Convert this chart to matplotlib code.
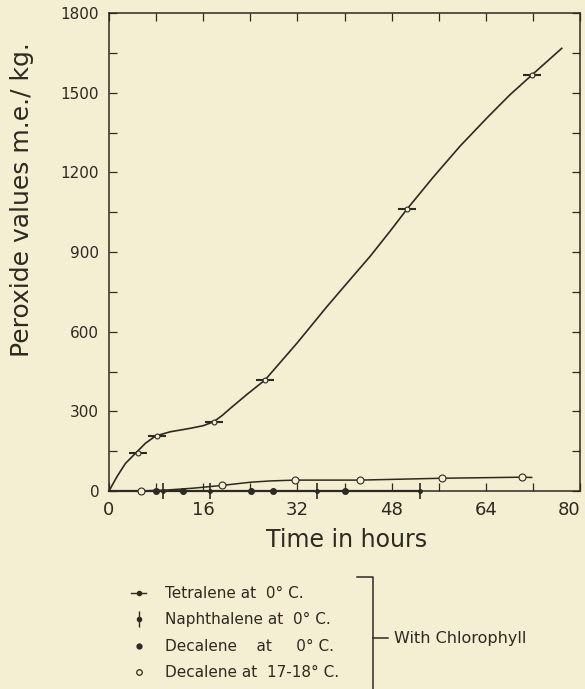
import matplotlib
matplotlib.use('Agg')
import matplotlib.pyplot as plt
from matplotlib.lines import Line2D

# Tetralene at 0 deg C: measured points and the drawn curve through them
tet_t = [5.0, 8.1, 17.8, 26.5, 50.6, 71.8]
tet_v = [142, 207, 261, 418, 1061, 1566]
tet_curve_t = [0, 1.35, 2.8, 4.5, 6.2, 7.9, 10.4, 13.8, 16.0, 17.8, 19.2, 20.6,
               23.5, 26.5, 31.9, 37.0, 40.4, 44.4, 47.8, 50.6, 55.0, 59.6,
               64.2, 68.1, 71.8, 76.9]
tet_curve_v = [0, 54, 104, 142, 180, 207, 223, 236, 246, 261, 284, 311,
               365, 418, 556, 694, 782, 885, 980, 1061, 1180, 1298,
               1405, 1492, 1566, 1667]

# Naphthalene at 0 deg C (stays on zero)
nap_t = [9.2, 17.2, 35.3, 52.8]
nap_v = [0, 0, 0, 0]
nap_line_t = [0, 52.8]
nap_line_v = [0, 0]

# Decalene at 0 deg C (stays on zero)
dec0_t = [8.0, 12.6, 24.1, 27.9, 40.1]
dec0_v = [0, 0, 0, 0, 0]

# Decalene at 17-18 deg C
dec17_t = [5.4, 19.2, 31.6, 42.6, 56.5, 70.1]
dec17_v = [0, 21, 41, 41, 48, 52]
dec17_curve_t = [5.4, 10.0, 14.5, 19.2, 24.0, 27.5, 31.6, 42.6, 56.5, 70.1, 71.8]
dec17_curve_v = [0, 4, 11, 21, 33, 38, 41, 41, 48, 52, 51]

x_major = [0, 16, 32, 48, 64, 80]
x_minor = [8, 24, 40, 56, 72]
y_major = [0, 300, 600, 900, 1200, 1500, 1800]
y_minor = [150, 450, 750, 1050, 1350, 1650]

legend_labels = ['Tetralene at  0° C.', 'Naphthalene at  0° C.',
                 'Decalene    at     0° C.', 'Decalene at  17-18° C.']

bg = '#f4eed2'
ink = '#2d2a22'
W, H = 585, 689

plt.rcParams['font.family'] = ['DejaVu Sans']

fig = plt.figure(figsize=(W / 100, H / 100), dpi=100, facecolor=bg)
ax = fig.add_axes([109 / W, 1 - 491 / H, (580 - 109) / W, (491 - 13) / H])
ax.set_facecolor(bg)

ax.plot(tet_curve_t, tet_curve_v, color=ink, lw=1.2)
ax.plot(tet_t, tet_v, ls='none', marker='_', ms=13, mew=1.5, color=ink)
ax.plot(tet_t, tet_v, ls='none', marker='o', ms=3.5, mfc=bg, mec=ink, mew=0.8)

ax.plot(dec17_curve_t, dec17_curve_v, color=ink, lw=1.1)
ax.plot(dec17_t, dec17_v, ls='none', marker='o', ms=5, mfc=bg, mec=ink, mew=0.8,
        clip_on=False, zorder=4)

ax.plot(nap_line_t, nap_line_v, color=ink, lw=1.6, clip_on=False, zorder=3)
ax.plot(nap_t, nap_v, ls='none', marker='|', ms=11, mew=1.2, color=ink,
        clip_on=False, zorder=4)
ax.plot(nap_t, nap_v, ls='none', marker='o', ms=2.5, color=ink,
        clip_on=False, zorder=4)

ax.plot(dec0_t, dec0_v, ls='none', marker='o', ms=4, color=ink,
        clip_on=False, zorder=4)

ax.set_xlim(0, 80)
ax.set_ylim(0, 1800)
ax.set_xticks(x_major)
ax.set_xticks(x_minor, minor=True)
ax.set_yticks(y_major)
ax.set_yticks(y_minor, minor=True)
ax.set_xticklabels([str(v) for v in x_major])
ax.set_yticklabels([str(v) for v in y_major])
ax.get_xticklabels()[-1].set_ha('right')
ax.tick_params(which='both', direction='in', top=True, right=True,
               length=6, width=0.9, color=ink, labelcolor=ink)
ax.tick_params(axis='x', labelsize=13, pad=7)
ax.tick_params(axis='y', labelsize=11, pad=7)
for sp in ax.spines.values():
    sp.set_color(ink)
    sp.set_linewidth(1.1)

fig.text(347 / W, 1 - 540 / H, 'Time in hours', ha='center', va='center',
         fontsize=17, color=ink)
fig.text(22 / W, 1 - 200 / H, 'Peroxide values m.e./ kg.', ha='center',
         va='center', rotation=90, fontsize=18, color=ink)

# legend with proxy handles
h_tet = (Line2D([], [], color=ink, lw=1.0),
         Line2D([], [], ls='none', marker='o', ms=3, color=ink))
h_nap = (Line2D([], [], ls='none', marker='|', ms=11, mew=1.0, color=ink),
         Line2D([], [], ls='none', marker='o', ms=3, color=ink))
h_dec0 = Line2D([], [], ls='none', marker='o', ms=3.5, color=ink)
h_dec17 = Line2D([], [], ls='none', marker='o', ms=4, mfc=bg, mec=ink, mew=0.9)
fig.legend([h_tet, h_nap, h_dec0, h_dec17], legend_labels,
           loc='upper left', bbox_to_anchor=(131 / W, 1 - 586 / H),
           frameon=False, fontsize=11, labelcolor=ink, handlelength=1.0,
           handletextpad=1.2, labelspacing=0.75, borderpad=0, borderaxespad=0)

# bracket grouping the legend entries
fig.add_artist(Line2D([357 / W, 373 / W, 373 / W], [1 - 577 / H, 1 - 577 / H, 0],
                      color=ink, lw=1.1))
fig.add_artist(Line2D([373 / W, 388 / W], [1 - 638 / H, 1 - 638 / H],
                      color=ink, lw=1.1))
fig.text(394 / W, 1 - 638 / H, 'With Chlorophyll', ha='left', va='center',
         fontsize=11.5, color=ink)

fig.savefig('out.png', dpi=100, facecolor=bg)
